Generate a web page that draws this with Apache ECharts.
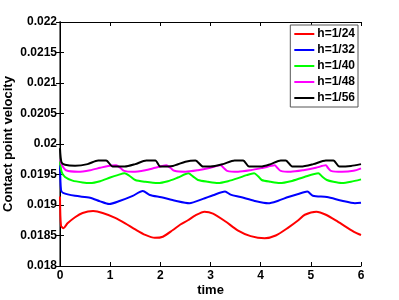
<!DOCTYPE html>
<html>
<head>
<meta charset="utf-8">
<script src="https://cdn.jsdelivr.net/npm/echarts@6/dist/echarts.min.js"></script>
<style>html,body{margin:0;padding:0;background:#fff}#c{width:399px;height:300px}</style>
</head>
<body>
<div id="c"></div>
<script>
// ---- data ----
const seriesNames = ['h=1/24', 'h=1/32', 'h=1/40', 'h=1/48', 'h=1/56'];
const xTickLabels = ['0', '1', '2', '3', '4', '5', '6'];
const yTickLabels = ['0.018', '0.0185', '0.019', '0.0195', '0.02', '0.0205', '0.021', '0.0215', '0.022'];

const redT = [0, 0.02, 0.07, 0.15, 0.3, 0.45, 0.66, 0.85, 1.1, 1.3, 1.5, 1.7, 1.89, 2.05, 2.25, 2.4, 2.55, 2.7, 2.88, 3.05, 3.3, 3.55, 3.8, 4.08, 4.3, 4.55, 4.75, 4.88, 5.11, 5.3, 5.53, 5.86, 6.0];
const redV = [0.01914, 0.01866, 0.01862, 0.01870, 0.01880, 0.01887, 0.01890, 0.01887, 0.01879, 0.01870, 0.01860, 0.01851, 0.018462, 0.01848, 0.01859, 0.01868, 0.01875, 0.01883, 0.01889, 0.01886, 0.01873, 0.01858, 0.01849, 0.018455, 0.01850, 0.01863, 0.01875, 0.01884, 0.01889, 0.01884, 0.01873, 0.01856, 0.018508];

const blueT = [0, 0.02, 0.06, 0.3, 0.6, 0.8, 0.98, 1.2, 1.45, 1.65, 1.79, 2.02, 2.3, 2.58, 2.85, 3.05, 3.29, 3.4, 3.6, 3.88, 4.15, 4.35, 4.55, 4.75, 4.93, 5.04, 5.32, 5.62, 5.88, 6.0];
const blueV = [0.01965, 0.01925, 0.01920, 0.01915, 0.01912, 0.01906, 0.019016, 0.01907, 0.01915, 0.01923, 0.019164, 0.019126, 0.01907, 0.01903, 0.01910, 0.01916, 0.01922, 0.01917, 0.01913, 0.019066, 0.019028, 0.01907, 0.01913, 0.01918, 0.01922, 0.019153, 0.01913, 0.01907, 0.01903, 0.019038];

const greenT = [0, 0.03, 0.1, 0.25, 0.45, 0.6, 0.8, 1.0, 1.15, 1.29, 1.38, 1.5, 1.7, 1.95, 2.15, 2.35, 2.56, 2.65, 2.75, 2.95, 3.15, 3.35, 3.55, 3.72, 3.87, 3.95, 4.02, 4.2, 4.38, 4.6, 4.87, 5.15, 5.22, 5.32, 5.45, 5.62, 5.8, 6.0];
const greenV = [0.01975, 0.01955, 0.01946, 0.01940, 0.01937, 0.01936, 0.01939, 0.01945, 0.01949, 0.01952, 0.01948, 0.01941, 0.01938, 0.01936, 0.01939, 0.01945, 0.01952, 0.01947, 0.01941, 0.01938, 0.01936, 0.01939, 0.01944, 0.01949, 0.01952, 0.01947, 0.01941, 0.01938, 0.01936, 0.01939, 0.01946, 0.01952, 0.01947, 0.01941, 0.01938, 0.01936, 0.01938, 0.01942];

const magT = [0, 0.04, 0.12, 0.36, 0.6, 0.8, 0.96, 1.12, 1.2, 1.28, 1.45, 1.7, 1.9, 2.12, 2.2, 2.28, 2.5, 2.75, 3.0, 3.2, 3.26, 3.33, 3.55, 3.8, 4.05, 4.28, 4.33, 4.4, 4.6, 4.85, 5.1, 5.3, 5.34, 5.4, 5.62, 5.85, 6.0];
const magV = [0.01975, 0.01965, 0.01957, 0.019545, 0.01957, 0.01961, 0.01964, 0.01965, 0.01961, 0.01956, 0.019545, 0.01957, 0.01961, 0.01965, 0.01961, 0.01956, 0.019545, 0.01957, 0.01961, 0.01965, 0.01961, 0.01956, 0.019545, 0.01957, 0.01961, 0.01965, 0.01961, 0.01956, 0.019545, 0.01957, 0.01961, 0.01965, 0.01961, 0.01956, 0.019545, 0.01956, 0.01960];

const blackT = [0, 0.03, 0.1, 0.3, 0.55, 0.76, 0.92, 1.05, 1.29, 1.5, 1.72, 1.9, 2.0, 2.25, 2.5, 2.7, 2.85, 3.0, 3.25, 3.48, 3.65, 3.77, 4.0, 4.2, 4.4, 4.5, 4.63, 4.8, 5.05, 5.3, 5.45, 5.57, 5.8, 6.0];
const blackV = [0.01993, 0.01970, 0.01966, 0.019645, 0.01967, 0.01973, 0.01973, 0.01963, 0.01963, 0.01967, 0.01973, 0.01973, 0.01963, 0.01964, 0.01971, 0.01973, 0.01963, 0.01963, 0.01967, 0.01973, 0.01973, 0.01963, 0.01963, 0.01967, 0.01973, 0.01973, 0.01963, 0.01963, 0.01967, 0.01973, 0.01973, 0.01963, 0.01964, 0.01967];

const colors = ['#ff0000', '#0000ff', '#00ff00', '#ff00ff', '#000000'];
const allT = [redT, blueT, greenT, magT, blackT];
const allV = [redV, blueV, greenV, magV, blackV];

// ---- chart ----
const FONT = 'Liberation Sans, Arial, Helvetica, sans-serif';
const txt = {color: '#000', fontFamily: FONT, fontWeight: 'bold', fontSize: 12};
const nameTxt = {color: '#000', fontFamily: FONT, fontWeight: 'bold', fontSize: 13};
const chart = echarts.init(document.getElementById('c'), null, {renderer: 'canvas'});

function pairs(t, v) { return t.map((x, i) => [x, v[i]]); }

const option = {
  animation: false,
  backgroundColor: '#fff',
  grid: {left: 60, right: 38, top: 22, bottom: 34, containLabel: false, outerBoundsMode: 'none'},
  legend: {
    orient: 'vertical', right: 41, top: 25,
    data: seriesNames.map((n) => ({name: n, icon: 'rect'})),
    backgroundColor: '#fff', borderColor: '#555', borderWidth: 1,
    padding: [1, 3, 1, 4],
    itemWidth: 20, itemHeight: 2, itemGap: 0,
    textStyle: Object.assign({}, txt, {lineHeight: 16, padding: [0, 0, 0, -2]})
  },
  xAxis: [{
    type: 'value', min: 0, max: 6, interval: 1,
    name: 'time', nameLocation: 'middle', nameGap: 18, nameTextStyle: nameTxt, nameMoveOverlap: false,
    axisLine: {show: true, lineStyle: {color: '#000', width: 1}},
    axisTick: {show: true, inside: true, length: 4, lineStyle: {color: '#000'}},
    axisLabel: Object.assign({}, txt, {margin: 4, formatter: (v) => xTickLabels[Math.round(v)]}),
    splitLine: {show: false}
  }, {
    type: 'value', min: 0, max: 6, interval: 1, position: 'top',
    axisLine: {show: true, lineStyle: {color: '#000', width: 1}},
    axisTick: {show: true, inside: true, length: 4, lineStyle: {color: '#000'}},
    axisLabel: {show: false}, splitLine: {show: false}
  }],
  yAxis: [{
    type: 'value', min: 0.018, max: 0.022, interval: 0.0005,
    name: 'Contact point velocity', nameLocation: 'middle', nameGap: 45, nameTextStyle: nameTxt, nameMoveOverlap: false,
    axisLine: {show: true, lineStyle: {color: '#777', width: 2}},
    axisTick: {show: true, inside: true, length: 4, lineStyle: {color: '#000'}},
    axisLabel: Object.assign({}, txt, {margin: 3, formatter: (v) => yTickLabels[Math.round((v - 0.018) / 0.0005)]}),
    splitLine: {show: false}
  }, {
    type: 'value', min: 0.018, max: 0.022, interval: 0.0005, position: 'right',
    axisLine: {show: true, lineStyle: {color: '#000', width: 1}},
    axisTick: {show: true, inside: true, length: 4, lineStyle: {color: '#000'}},
    axisLabel: {show: false}, splitLine: {show: false}
  }],
  series: seriesNames.map((n, i) => ({
    name: n, type: 'line', xAxisIndex: 0, yAxisIndex: 0,
    data: pairs(allT[i], allV[i]),
    showSymbol: false, symbol: 'none', smooth: 0.25,
    color: colors[i],
    lineStyle: {color: colors[i], width: 2},
    z: 2 + i
  }))
};
chart.setOption(option);
</script>
</body>
</html>
